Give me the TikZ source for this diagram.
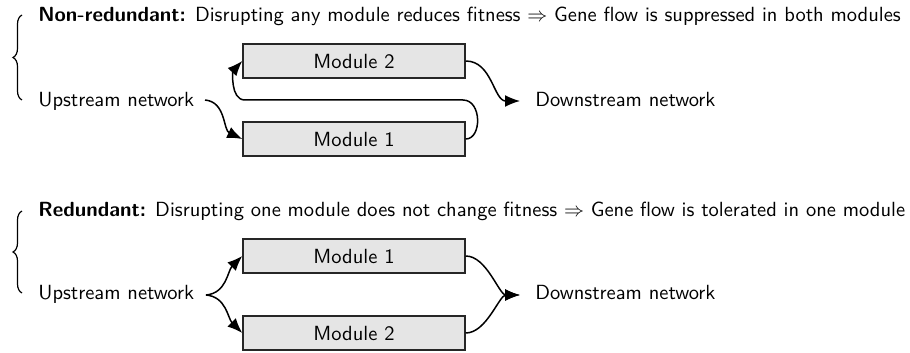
\documentclass[tikz,border=0pt]{standalone}
\usetikzlibrary{arrows.meta,decorations.pathreplacing}
\begin{document}
\begin{tikzpicture}[x=0.5pt,y=-0.5pt,font=\sffamily\fontsize{10.25}{12}\selectfont,
  modbox/.style={draw=black!85,fill=black!10,line width=0.75pt,minimum width=111pt,minimum height=17pt,inner sep=0pt},
  txt/.style={inner sep=0pt,anchor=base west},
  conn/.style={line width=0.75pt},
  arr/.style={conn,-{Latex[length=7.5pt,width=6pt]}},
  bracestyle/.style={decorate,decoration={brace,amplitude=4.5pt},line width=0.6pt}]
\useasboundingbox (0,0) rectangle (910,353);
% ---- top panel
\node[txt] (t1) at (38,22) {\textbf{Non-redundant:} Disrupting any module reduces fitness $\Rightarrow$ Gene flow is suppressed in both modules};
\coordinate (b1a) at (22,100);
\coordinate (b1b) at (22,15);
\draw[bracestyle] (b1a) -- (b1b);
\node[modbox] (m2a) at (354,61) {Module 2};
\node[modbox] (m1a) at (354,139) {Module 1};
\node[txt] (upa) at (38,106) {Upstream network};
\node[txt] (dna) at (535,106) {Downstream network};
\coordinate (upaend) at (205,100);
\coordinate (dnatip) at (520,101);
\coordinate (fbr) at (463,100);
\coordinate (fbl) at (245,100);
\draw[arr] (upaend) to[out=-5,in=155] (m1a.west);
\draw[arr] (m1a.east) .. controls (482,139) and (482,100) .. (fbr) -- (fbl) .. controls (230,100) and (233,71) .. (m2a.west);
\draw[arr] (m2a.east) to[out=0,in=180] (dnatip);
% ---- bottom panel
\node[txt] (t2) at (38,216) {\textbf{Redundant:} Disrupting one module does not change fitness $\Rightarrow$ Gene flow is tolerated in one module};
\coordinate (b2a) at (22,293);
\coordinate (b2b) at (22,211);
\draw[bracestyle] (b2a) -- (b2b);
\node[modbox] (m1b) at (354,256) {Module 1};
\node[modbox] (m2b) at (354,333) {Module 2};
\node[txt] (upb) at (38,299) {Upstream network};
\node[txt] (dnb) at (535,299) {Downstream network};
\coordinate (split) at (206,295);
\coordinate (dnbtip) at (520,295);
\draw[arr] (split) to[out=5,in=225] (m1b.west);
\draw[arr] (split) to[out=-5,in=135] (m2b.west);
\draw[arr] (m1b.east) to[out=0,in=180,looseness=0.8] (dnbtip);
\draw[arr] (m2b.east) to[out=0,in=180,looseness=0.8] (dnbtip);
\end{tikzpicture}
\end{document}
